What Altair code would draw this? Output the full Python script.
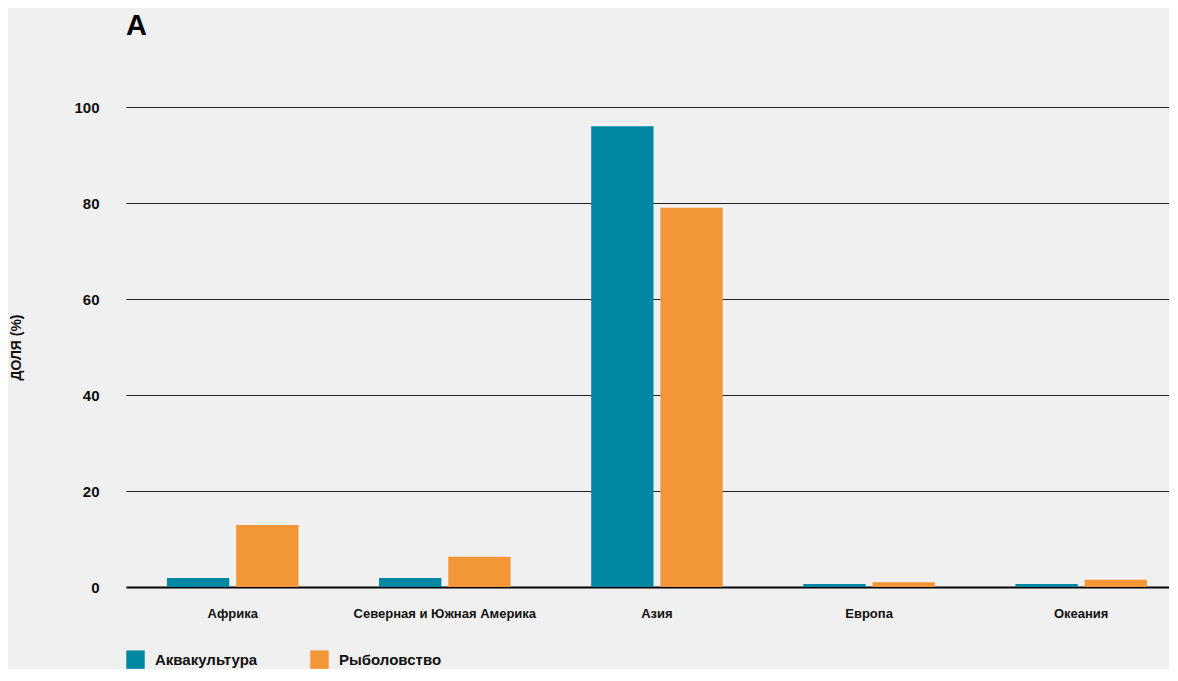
import altair as alt
import pandas as pd

regions = ["Африка", "Северная и Южная Америка", "Азия", "Европа", "Океания"]
series = ["Аквакультура", "Рыболовство"]
aquaculture = [1.9, 1.9, 96.0, 0.6, 0.6]
fishing = [12.9, 6.3, 79.0, 1.0, 1.5]

rows = []
for r, a, f in zip(regions, aquaculture, fishing):
    rows.append({"region": r, "series": series[0], "value": a})
    rows.append({"region": r, "series": series[1], "value": f})
df = pd.DataFrame(rows)

FONT = "Liberation Sans, Arial, sans-serif"
TEAL = "#0088a2"
ORANGE = "#f29637"

chart = alt.Chart(df).mark_bar().encode(
    x=alt.X("region:N", sort=regions, title=None,
            scale=alt.Scale(paddingInner=0.38, paddingOuter=0.1485, align=0.65),
            axis=alt.Axis(labelAngle=0, labelFontSize=13, labelFont=FONT, labelFontWeight="bold",
                          labelColor="#111", labelPadding=20, ticks=False, labelLimit=400,
                          domainColor="#000", domainWidth=2, grid=False)),
    xOffset=alt.XOffset("series:N", sort=series, scale=alt.Scale(paddingInner=0.1)),
    y=alt.Y("value:Q", title="ДОЛЯ (%)",
            scale=alt.Scale(domain=[0, 100]),
            axis=alt.Axis(values=[0, 20, 40, 60, 80, 100], ticks=False, domain=False,
                          grid=True, gridColor="#222", gridWidth=1,
                          labelFontSize=15, labelFont=FONT, labelFontWeight="bold",
                          labelColor="#111", labelPadding=27,
                          titleFont=FONT, titleFontSize=14, titleFontWeight="bold",
                          titleColor="#111", titleX=-110, titleY=240, titleAngle=-90,
                          titleAlign="center", titleBaseline="middle")),
    color=alt.Color("series:N", sort=series,
                    scale=alt.Scale(domain=series, range=[TEAL, ORANGE]),
                    legend=alt.Legend(title=None, orient="none", direction="horizontal",
                                      legendX=0, legendY=543,
                                      symbolType="square", symbolSize=340,
                                      symbolStrokeWidth=0, symbolOpacity=1,
                                      labelFont=FONT, labelFontSize=15, labelFontWeight="bold",
                                      labelColor="#111", labelOffset=10,
                                      columnPadding=52)),
).properties(
    width=1043, height=480,
    title=alt.TitleParams("A", anchor="start", frame="group", font=FONT, fontSize=29,
                          fontWeight="bold", color="#000", offset=59),
    background="#f0f0f0",
    padding={"left": 1, "right": 0, "top": 4, "bottom": 0},
).configure_view(stroke=None)

chart.save("out.html", embed_options={"renderer": "svg", "actions": False})
